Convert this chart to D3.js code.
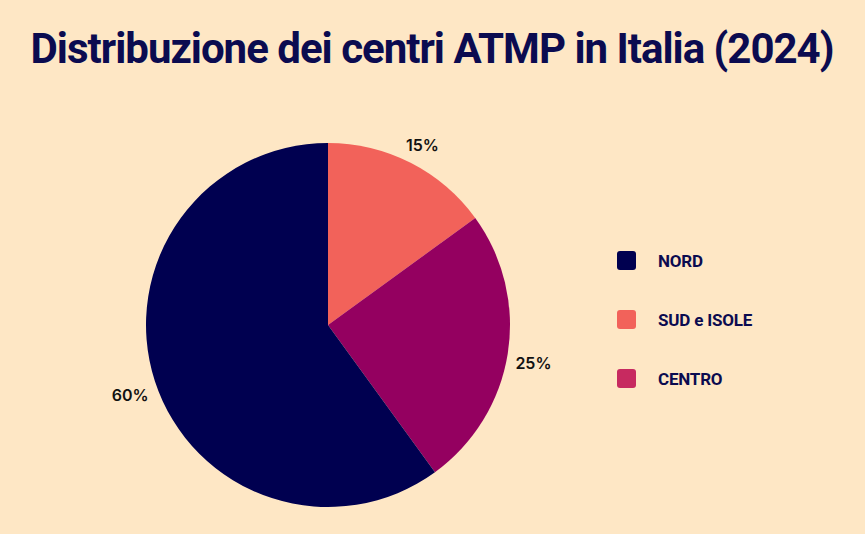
<!DOCTYPE html>
<html>
<head>
<meta charset="utf-8">
<script src="https://cdn.jsdelivr.net/npm/d3@7"></script>
<style>
  html, body { margin: 0; padding: 0; background: #fee7c5; }
  svg { display: block; }
</style>
</head>
<body>
<svg width="865" height="534"></svg>
<script>
const width = 865, height = 534;

// Données
const categories = ["SUD e ISOLE", "CENTRO", "NORD"];
const values = [15, 25, 60];
const sliceColors = ["#f2625a", "#940060", "#000050"];

const legendLabels = ["NORD", "SUD e ISOLE", "CENTRO"];
const legendColors = ["#000050", "#f2625a", "#c72a60"];

const svg = d3.select("svg");

svg.append("rect")
  .attr("width", width)
  .attr("height", height)
  .attr("fill", "#fee7c5");

// Titre
svg.append("text")
  .attr("x", 432)
  .attr("y", 63)
  .attr("text-anchor", "middle")
  .attr("font-family", "Roboto, sans-serif")
  .attr("font-weight", "bold")
  .attr("font-size", "42px")
  .attr("letter-spacing", "-1px")
  .attr("fill", "#0b0b50")
  .text("Distribuzione dei centri ATMP in Italia (2024)");

// Camembert
const radius = 182;
const g = svg.append("g")
  .attr("transform", "translate(328,325)");

const data = categories.map((c, i) => ({ name: c, value: values[i], color: sliceColors[i] }));

const pie = d3.pie()
  .sort(null)
  .value(d => d.value);

const arc = d3.arc()
  .innerRadius(0)
  .outerRadius(radius);

const labelArc = d3.arc()
  .innerRadius(208)
  .outerRadius(208);

g.selectAll("path.slice")
  .data(pie(data))
  .enter()
  .append("path")
  .attr("class", "slice")
  .attr("d", arc)
  .attr("fill", d => d.data.color);

g.selectAll("text.pct")
  .data(pie(data))
  .enter()
  .append("text")
  .attr("class", "pct")
  .attr("transform", d => {
    const [x, y] = labelArc.centroid(d);
    return `translate(${x},${y + 6})`;
  })
  .attr("text-anchor", "middle")
  .attr("dy", "0.35em")
  .attr("font-family", "Inter, sans-serif")
  .attr("font-weight", "600")
  .attr("font-size", "16px")
  .attr("fill", "#111")
  .text(d => d.data.value + "%");

// Légende
const legend = svg.append("g")
  .attr("transform", "translate(617,251)");

const rows = legend.selectAll("g")
  .data(legendLabels)
  .enter()
  .append("g")
  .attr("transform", (d, i) => `translate(0,${i * 59})`);

rows.append("rect")
  .attr("width", 19)
  .attr("height", 19)
  .attr("rx", 3)
  .attr("fill", (d, i) => legendColors[i]);

rows.append("text")
  .attr("x", 41)
  .attr("y", 15.5)
  .attr("font-family", "Roboto, sans-serif")
  .attr("font-weight", "bold")
  .attr("font-size", "17px")
  .attr("letter-spacing", "-0.2px")
  .attr("fill", "#0b0b50")
  .text(d => d);
</script>
</body>
</html>
